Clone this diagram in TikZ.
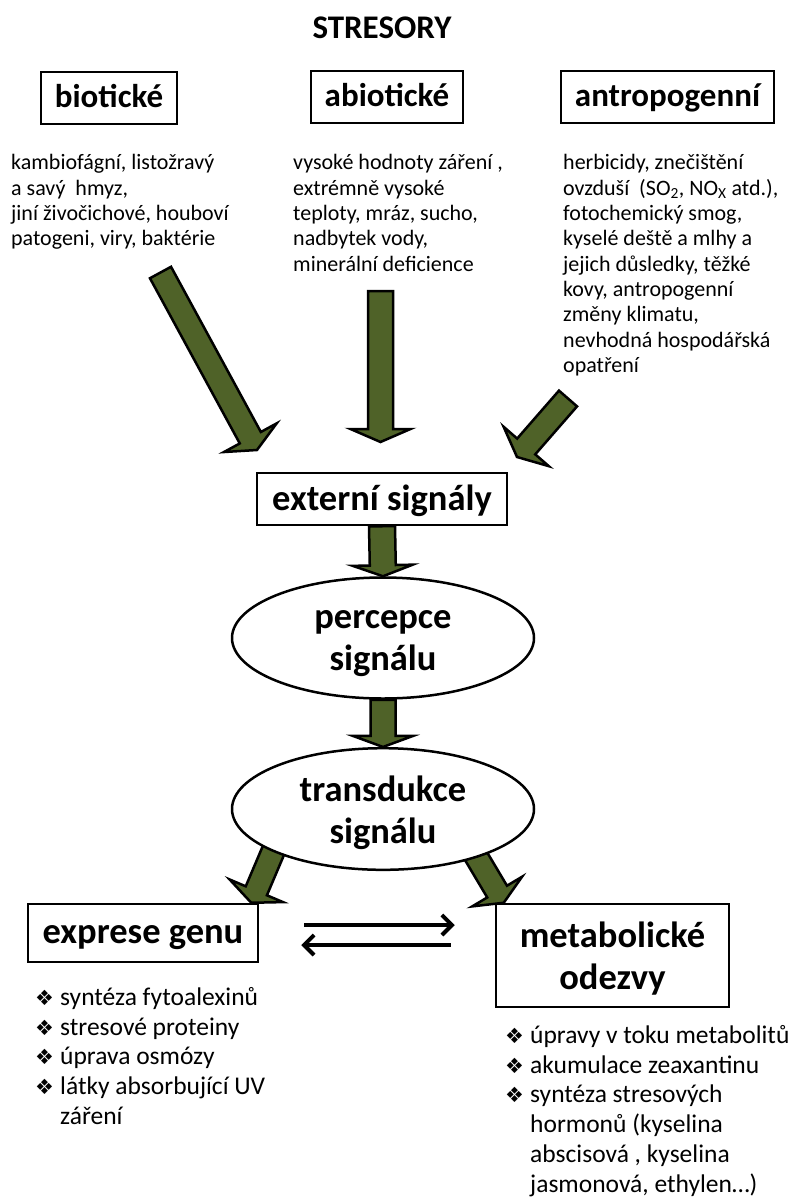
\documentclass[tikz,border=0pt]{standalone}
\usepackage{fontspec}
\setmainfont{Carlito}
\newfontfamily\symfont{DejaVu Sans}
\usetikzlibrary{calc,shapes.geometric,arrows.meta}
\definecolor{olivearrow}{HTML}{4F6228}
\pgfdeclarelayer{arrowlayer}
\pgfsetlayers{arrowlayer,main}
\newcommand\blockarr[5]{%
  \coordinate (babase) at ($(#2)!#5!(#1)$);
  \draw[blockarrow] ($(#1)!#3!90:(#2)$) -- ($(babase)!#3!90:(#2)$) -- ($(babase)!#4!90:(#2)$) -- (#2)
    -- ($(babase)!#4!-90:(#2)$) -- ($(babase)!#3!-90:(#2)$) -- ($(#1)!#3!-90:(#2)$) -- cycle;}
\newcommand\bul{\makebox[25pt][l]{\symfont\fontsize{21}{21}\selectfont ❖}}
\newcommand\ind{\hspace*{25pt}}
\tikzset{
  blockarrow/.style={draw=black, line width=2.5pt, fill=olivearrow, line join=miter},
  catbox/.style={draw=black, line width=2.2pt, fill=white, inner sep=0pt,
    font=\bfseries\fontsize{33}{40}\selectfont, text height=24pt, text depth=6pt},
  flowbox/.style={draw=black, line width=2.5pt, fill=white, inner sep=0pt,
    font=\bfseries\fontsize{36.5}{42}\selectfont},
  flowell/.style={flowbox, ellipse, minimum width=302pt, minimum height=121pt, align=center},
  desc/.style={anchor=north west, inner sep=0pt, align=left,
    font=\fontsize{22}{25.3}\selectfont, execute at begin node=\strut},
  bullist/.style={anchor=north west, inner sep=0pt, align=left,
    font=\fontsize{25.5}{29.8}\selectfont, execute at begin node=\strut},
  twoway/.style={line width=4pt, -{Straight Barb[length=10pt,width=20pt]}}
}
\begin{document}
\begin{tikzpicture}[x=1pt,y=-1pt]
\useasboundingbox (0,0) rectangle (788,1197);
% title
\node[font=\bfseries\fontsize{33}{38}\selectfont, inner sep=0pt] (title) at (382,28) {STRESORY};
% category boxes
\node[catbox, minimum width=136pt, minimum height=52pt] (bio) at (109,98) {biotické};
\node[catbox, minimum width=152pt, minimum height=52pt] (abio) at (387,97) {abiotické};
\node[catbox, minimum width=213pt, minimum height=52pt] (antro) at (667.5,97) {antropogenní};
% descriptions
\node[desc] (biod) at (11,154.5) {kambiofágní, listožravý\\a savý\ \ hmyz,\\jiní živočichové, houboví\\patogeni, viry, baktérie};
\node[desc] (abiod) at (293,154.5) {vysoké hodnoty záření ,\\extrémně vysoké\\teploty, mráz, sucho,\\nadbytek vody,\\minerální deficience};
\node[desc] (antrod) at (563,154.5) {herbicidy, znečištění\\ovzduší\ \ (SO\textsubscript{2}, NO\textsubscript{X} atd.),\\fotochemický smog,\\kyselé deště a mlhy a\\jejich důsledky, těžké\\kovy, antropogenní\\změny klimatu,\\nevhodná hospodářská\\opatření};
% flow nodes
\node[flowbox, minimum width=250pt, minimum height=52pt, text height=27pt, text depth=5pt] (ext) at (382,499) {externí signály};
\node[flowell, text height=72pt, text depth=8pt] (perc) at (383,638) {percepce\\signálu};
\node[flowell, text height=77pt, text depth=9pt] (trans) at (383,809) {transdukce\\signálu};
\node[flowbox, minimum width=230pt, minimum height=58pt, text height=26pt, text depth=6pt] (expr) at (143,933) {exprese genu};
\node[flowbox, minimum width=233pt, minimum height=103pt, align=center, text height=78pt, text depth=10.4pt] (metab) at (612.5,955.5) {metabolické\\odezvy};
% floating arrow ends
\coordinate (t1) at (160.5,272.5); \coordinate (h1) at (257,450);
\coordinate (t2) at (380.5,291);   \coordinate (h2) at (380.5,442);
\coordinate (t3) at (568,398.5);   \coordinate (h3) at (517,457);
\coordinate (t6) at ($(trans.center)+(-106,33)$); \coordinate (h6) at ($(expr.north east)+(-8,0)$);
\coordinate (t7) at ($(trans.center)+(87,37)$);   \coordinate (h7) at ($(metab.north west)+(9,0)$);
% block arrows behind the shapes
\begin{pgfonlayer}{arrowlayer}
\blockarr{t1}{h1}{12pt}{30pt}{14pt}
\blockarr{t2}{h2}{12.5pt}{30pt}{13pt}
\blockarr{t3}{h3}{12pt}{30pt}{14pt}
\blockarr{ext.south}{perc.north}{13pt}{30pt}{11pt}
\blockarr{perc.south}{trans.north}{12.5pt}{30pt}{11pt}
\blockarr{t6}{h6}{11.5pt}{29pt}{13pt}
\blockarr{t7}{h7}{11.5pt}{29pt}{13pt}
\end{pgfonlayer}
% two-way arrows
\coordinate (ra1) at ($(expr.east)+(45,-8)$);
\coordinate (ra2) at ($(metab.west)+(-40,-30.5)$);
\coordinate (la1) at ($(metab.west)+(-44,-10.5)$);
\coordinate (la2) at ($(expr.east)+(42,12)$);
\draw[twoway] (ra1) -- (ra2);
\draw[twoway] (la1) -- (la2);
% bullet lists
\node[bullist] (exprl) at (35,987) {\bul syntéza fytoalexinů\\\bul stresové proteiny\\\bul úprava osmózy\\\bul látky absorbující UV\\\ind záření};
\node[bullist] (metabl) at (505,1025) {\bul úpravy v toku metabolitů\\\bul akumulace zeaxantinu\\\bul syntéza stresových\\\ind hormonů (kyselina\\\ind abscisová , kyselina\\\ind jasmonová, ethylen…)};
\end{tikzpicture}
\end{document}
